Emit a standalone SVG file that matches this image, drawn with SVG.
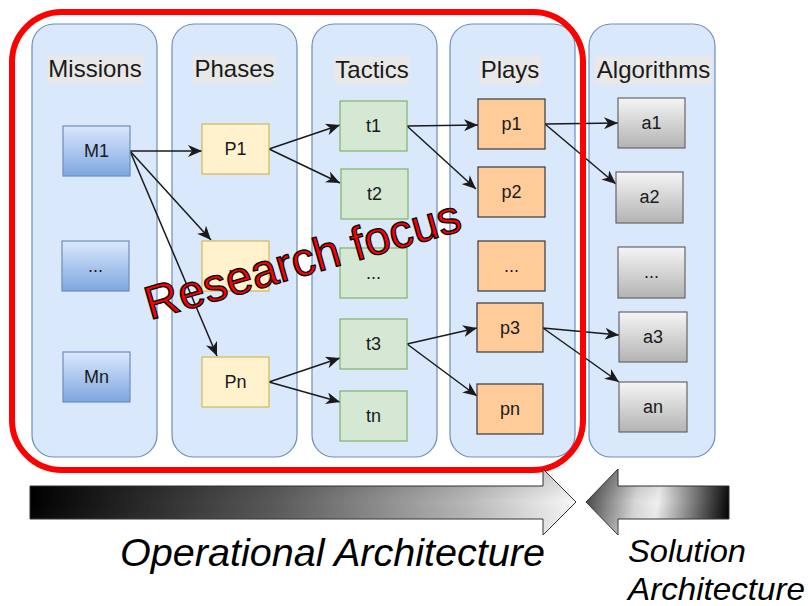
<svg xmlns="http://www.w3.org/2000/svg" width="808" height="606" viewBox="0 0 808 606">
<style>
.lane{fill:#dae8fc;stroke:#6c8ebf;stroke-width:1.2}
.hbg{fill:#e8e8e8}
.hdr{font-family:"Liberation Sans",Arial,sans-serif;font-size:24px;fill:#1a1a1a;text-anchor:middle}
.lbl{font-family:"Liberation Sans",Arial,sans-serif;font-size:18px;fill:#1a1a1a;text-anchor:middle}
.m{fill:url(#gBlue);stroke:#6c8ebf;stroke-width:1.2}
.p{fill:#fff2cc;stroke:#d6b656;stroke-width:1.2}
.t{fill:#d5e8d4;stroke:#82b366;stroke-width:1.2}
.pl{fill:#ffcc99;stroke:#36393d;stroke-width:1.2}
.a{fill:url(#gGray);stroke:#666666;stroke-width:1.2}
.edge{stroke:#1a1a1a;stroke-width:1.5;fill:none;marker-end:url(#arr)}
.foot{font-family:"Liberation Sans",Arial,sans-serif;font-style:italic;fill:#000}
</style>
<defs>
<linearGradient id="gBlue" x1="0" y1="0" x2="0" y2="1"><stop offset="0" stop-color="#dae8fc"/><stop offset="1" stop-color="#7ea6e0"/></linearGradient>
<linearGradient id="gGray" x1="0" y1="0" x2="0" y2="1"><stop offset="0" stop-color="#f5f5f5"/><stop offset="1" stop-color="#b3b3b3"/></linearGradient>
<linearGradient id="gLeft" gradientUnits="userSpaceOnUse" x1="30" y1="486" x2="576" y2="520"><stop offset="0" stop-color="#000"/><stop offset="0.45" stop-color="#5a5a5a"/><stop offset="0.8" stop-color="#b8b8b8"/><stop offset="1" stop-color="#fafafa"/></linearGradient>
<linearGradient id="gRight" gradientUnits="userSpaceOnUse" x1="586" y1="490" x2="729" y2="515"><stop offset="0" stop-color="#444"/><stop offset="0.35" stop-color="#d8d8d8"/><stop offset="0.5" stop-color="#f0f0f0"/><stop offset="1" stop-color="#000"/></linearGradient>
<linearGradient id="gloss" x1="0" y1="0" x2="0" y2="1"><stop offset="0" stop-color="#000" stop-opacity="0.15"/><stop offset="0.5" stop-color="#000" stop-opacity="0"/><stop offset="1" stop-color="#fff" stop-opacity="0.1"/></linearGradient>
<marker id="arr" markerUnits="userSpaceOnUse" markerWidth="14" markerHeight="12" viewBox="0 0 14 12" refX="14" refY="6" orient="auto"><path d="M0,0 L14,6 L0,12 L4,6 z" fill="#1a1a1a"/></marker>
</defs>

<g id="lanes">
<g id="lane-missions"><rect class="lane" x="32" y="24" width="125" height="433" rx="22"/><rect class="hbg" x="47" y="55" width="96" height="28"/><text class="hdr" x="95" y="77">Missions</text></g>
<g id="lane-phases"><rect class="lane" x="172" y="24" width="125" height="433" rx="22"/><rect class="hbg" x="193" y="55" width="83" height="28"/><text class="hdr" x="234.5" y="77">Phases</text></g>
<g id="lane-tactics"><rect class="lane" x="312" y="24" width="125" height="433" rx="22"/><rect class="hbg" x="334" y="56" width="76" height="28"/><text class="hdr" x="372" y="78">Tactics</text></g>
<g id="lane-plays"><rect class="lane" x="450" y="24" width="125" height="433" rx="22"/><rect class="hbg" x="479" y="56" width="62" height="28"/><text class="hdr" x="510" y="78">Plays</text></g>
<g id="lane-algorithms"><rect class="lane" x="589" y="24" width="126" height="433" rx="22"/><rect class="hbg" x="595" y="56" width="117" height="28"/><text class="hdr" x="653.5" y="78">Algorithms</text></g>
</g>

<g id="connectors">
<path class="edge" d="M130,151 L202,151"/>
<path class="edge" d="M130,151 L211,240"/>
<path class="edge" d="M130,151 L217,356"/>
<path class="edge" d="M269,149 L340,125"/>
<path class="edge" d="M269,149 L340,183"/>
<path class="edge" d="M269,382 L340,358"/>
<path class="edge" d="M269,382 L340,402"/>
<path class="edge" d="M407,126 L478,125"/>
<path class="edge" d="M407,126 L476,189"/>
<path class="edge" d="M407,344 L477,328"/>
<path class="edge" d="M407,344 L477,396"/>
<path class="edge" d="M545,124 L618,123"/>
<path class="edge" d="M545,124 L616,184"/>
<path class="edge" d="M543,328 L619,335"/>
<path class="edge" d="M543,328 L619,382"/>
</g>

<g id="node-M1"><rect class="m" x="63" y="126" width="67" height="50"/><text class="lbl" x="96.5" y="157">M1</text></g>
<g id="node-Mdots"><rect class="m" x="62" y="241" width="67" height="50"/><text class="lbl" x="95.5" y="272">...</text></g>
<g id="node-Mn"><rect class="m" x="63" y="352" width="67" height="50"/><text class="lbl" x="96.5" y="383">Mn</text></g>

<g id="node-P1"><rect class="p" x="202" y="124" width="67" height="50"/><text class="lbl" x="235.5" y="155">P1</text></g>
<g id="node-Pdots"><rect class="p" x="202" y="241" width="67" height="50"/><text class="lbl" x="235.5" y="272">...</text></g>
<g id="node-Pn"><rect class="p" x="202" y="357" width="67" height="50"/><text class="lbl" x="235.5" y="388">Pn</text></g>

<g id="node-t1"><rect class="t" x="340" y="101" width="67" height="50"/><text class="lbl" x="373.5" y="132">t1</text></g>
<g id="node-t2"><rect class="t" x="341" y="169" width="67" height="50"/><text class="lbl" x="374.5" y="200">t2</text></g>
<g id="node-tdots"><rect class="t" x="340" y="248" width="67" height="50"/><text class="lbl" x="373.5" y="279">...</text></g>
<g id="node-t3"><rect class="t" x="340" y="319" width="67" height="50"/><text class="lbl" x="373.5" y="350">t3</text></g>
<g id="node-tn"><rect class="t" x="340" y="391" width="67" height="50"/><text class="lbl" x="373.5" y="422">tn</text></g>

<g id="node-p1"><rect class="pl" x="478" y="99" width="67" height="50"/><text class="lbl" x="511.5" y="130">p1</text></g>
<g id="node-p2"><rect class="pl" x="478" y="167" width="67" height="50"/><text class="lbl" x="511.5" y="198">p2</text></g>
<g id="node-pdots"><rect class="pl" x="478" y="241" width="67" height="50"/><text class="lbl" x="511.5" y="272">...</text></g>
<g id="node-p3"><rect class="pl" x="477" y="303" width="66" height="49"/><text class="lbl" x="510" y="334">p3</text></g>
<g id="node-pn"><rect class="pl" x="477" y="384" width="66" height="50"/><text class="lbl" x="510" y="415">pn</text></g>

<g id="node-a1"><rect class="a" x="618" y="98" width="67" height="50"/><text class="lbl" x="651.5" y="129">a1</text></g>
<g id="node-a2"><rect class="a" x="616" y="172" width="67" height="51"/><text class="lbl" x="649.5" y="203">a2</text></g>
<g id="node-adots"><rect class="a" x="618" y="247" width="67" height="51"/><text class="lbl" x="651.5" y="278">...</text></g>
<g id="node-a3"><rect class="a" x="619" y="312" width="68" height="50"/><text class="lbl" x="653" y="343">a3</text></g>
<g id="node-an"><rect class="a" x="619" y="382" width="68" height="50"/><text class="lbl" x="653" y="413">an</text></g>

<g id="research-focus">
<rect x="12" y="12" width="571" height="458" rx="50" fill="none" stroke="#ff0000" stroke-width="6"/>
<text x="150" y="320" transform="rotate(-16 150 320)" font-family="'Liberation Sans',Arial,sans-serif" font-size="47" fill="#ff0000" stroke="#000" stroke-width="1.3">Research focus</text>
</g>

<g id="bottom-arrows">
<path d="M30,486 L543,486 L543,469 L576,502 L543,535 L543,519 L30,519 Z" fill="url(#gLeft)" stroke="#333" stroke-width="1"/>
<path d="M30,486 L543,486 L543,469 L576,502 L543,535 L543,519 L30,519 Z" fill="url(#gloss)"/>
<path d="M729,486 L618,486 L618,469 L586,502 L618,535 L618,519 L729,519 Z" fill="url(#gRight)" stroke="#333" stroke-width="1"/>
<path d="M729,486 L618,486 L618,469 L586,502 L618,535 L618,519 L729,519 Z" fill="url(#gloss)"/>
<text class="foot" x="120" y="566" font-size="38" textLength="425" lengthAdjust="spacingAndGlyphs">Operational Architecture</text>
<text class="foot" x="628" y="562" font-size="32" textLength="118" lengthAdjust="spacingAndGlyphs">Solution</text>
<text class="foot" x="628" y="600" font-size="32" textLength="177" lengthAdjust="spacingAndGlyphs">Architecture</text>
</g>
</svg>
